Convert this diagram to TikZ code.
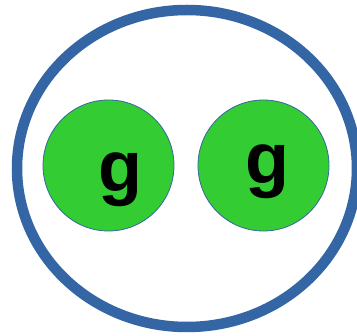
\documentclass[tikz,border=0pt]{standalone}
\usepackage{fontspec}
\setmainfont{Liberation Sans}
\definecolor{ringblue}{HTML}{3465A4}
\definecolor{ggreen}{HTML}{33CC33}
\begin{document}
\begin{tikzpicture}[x=1pt,y=-1pt,
  ball/.style={circle,fill=ggreen,draw=ringblue,line width=0.8pt,minimum size=131pt,inner sep=0pt},
  glab/.style={anchor=base,inner sep=0pt,font=\fontsize{72}{72}\selectfont\bfseries}]
\useasboundingbox[fill=white] (0,0) rectangle (357,336);
\draw[ringblue,line width=10.5pt] (187,168.5) ellipse [x radius=170, y radius=158.5];
\node[ball] (b1) at (108.5,165.5) {};
\node[ball] (b2) at (263.5,165.5) {};
\node[glab] (g1) at (120,192) {g};
\node[glab] (g2) at (267.5,184) {g};
\end{tikzpicture}
\end{document}
